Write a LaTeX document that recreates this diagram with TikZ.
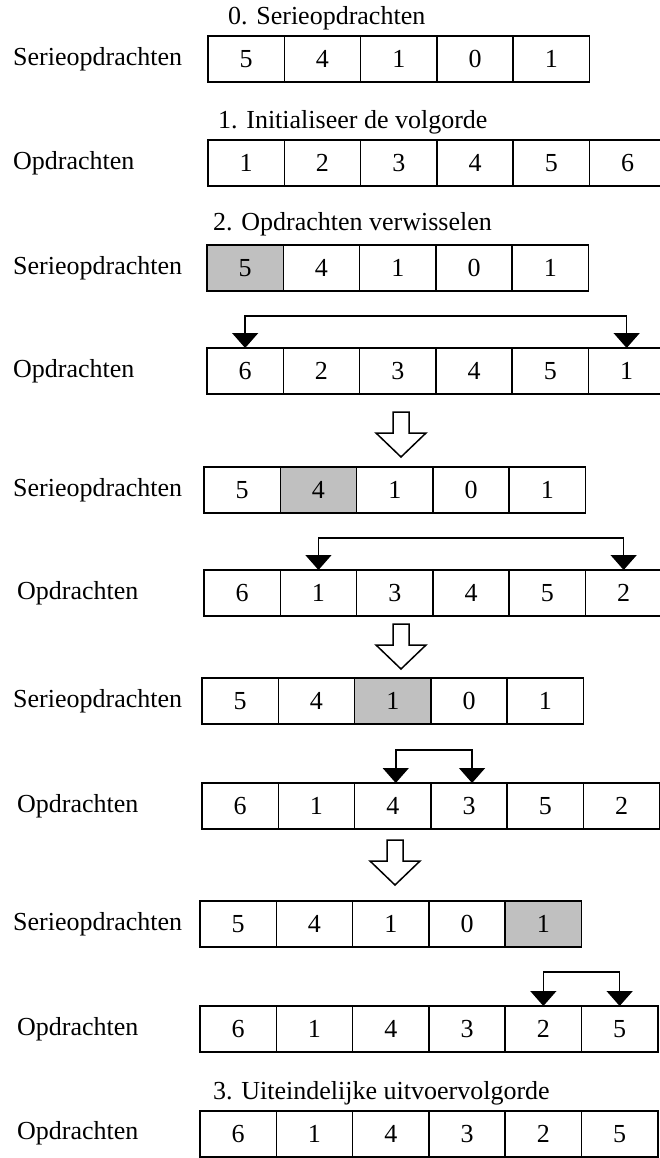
\documentclass[tikz,border=0pt]{standalone}
\usepackage{fontspec}
\setmainfont{Liberation Serif}
\usetikzlibrary{arrows.meta}

\definecolor{cellgray}{RGB}{192,192,192}

% one row of numbered cells: name, left edge, centre y, values, index of the shaded cell
\newcommand{\cellrow}[5]{%
  \foreach \v [count=\i] in {#4} {
    \ifnum\i=#5 \def\cellfill{cellgray}\else\def\cellfill{white}\fi
    \node[cellbox, fill=\cellfill] (#1c\i) at ({#2+76.3*(\i-0.5)}, #3) {\v};
  }%
}

% open block arrow pointing down: centre x, top y
\newcommand{\blockdown}[2]{%
  \draw[blockarrow] (#1-8,#2) -- (#1+8,#2) -- (#1+8,#2+21) -- (#1+25,#2+21)
    -- (#1,#2+45) -- (#1-25,#2+21) -- (#1-8,#2+21) -- cycle;
}

\tikzset{
  txt/.style={font=\fontsize{26}{30}\selectfont, text=black},
  cellbox/.style={draw=black, line width=1.5pt, minimum width=76.3pt,
    minimum height=46pt, inner sep=0pt, outer sep=0pt, txt},
  rowlabel/.style={anchor=west, inner sep=0pt, txt},
  steptitle/.style={anchor=west, inner sep=0pt, txt},
  swap/.style={draw=black, line width=1.5pt,
    {Triangle[width=26pt,length=15pt]}-{Triangle[width=26pt,length=15pt]}},
  blockarrow/.style={draw=black, fill=white, line width=1.5pt, line join=miter},
}

\begin{document}
\begin{tikzpicture}[x=1pt, y=-1pt]
  \useasboundingbox (0,0) rectangle (660,1158);
  \fill[white] (0,0) rectangle (660,1158);
  \clip (0,0) rectangle (660,1158);

  % step titles
  \node[steptitle] (t0) at (228,18)   {0. Serieopdrachten};
  \node[steptitle] (t1) at (218,122)  {1. Initialiseer de volgorde};
  \node[steptitle] (t2) at (213,224)  {2. Opdrachten verwisselen};
  \node[steptitle] (t3) at (213,1093) {3. Uiteindelijke uitvoervolgorde};

  % row labels
  \node[rowlabel] (l0)  at (13,59)   {Serieopdrachten};
  \node[rowlabel] (l1)  at (13,163)  {Opdrachten};
  \node[rowlabel] (l2)  at (13,268)  {Serieopdrachten};
  \node[rowlabel] (l3)  at (13,371)  {Opdrachten};
  \node[rowlabel] (l4)  at (13,490)  {Serieopdrachten};
  \node[rowlabel] (l5)  at (17,593)  {Opdrachten};
  \node[rowlabel] (l6)  at (13,701)  {Serieopdrachten};
  \node[rowlabel] (l7)  at (17,806)  {Opdrachten};
  \node[rowlabel] (l8)  at (13,924)  {Serieopdrachten};
  \node[rowlabel] (l9)  at (17,1029) {Opdrachten};
  \node[rowlabel] (l10) at (17,1133) {Opdrachten};

  % cell rows
  \cellrow{r0}{208}{59}{5,4,1,0,1}{0}
  \cellrow{r1}{208}{163}{1,2,3,4,5,6}{0}
  \cellrow{r2}{207}{268}{5,4,1,0,1}{1}
  \cellrow{r3}{207}{371}{6,2,3,4,5,1}{0}
  \cellrow{r4}{204}{490}{5,4,1,0,1}{2}
  \cellrow{r5}{204}{593}{6,1,3,4,5,2}{0}
  \cellrow{r6}{202}{701}{5,4,1,0,1}{3}
  \cellrow{r7}{202}{806}{6,1,4,3,5,2}{0}
  \cellrow{r8}{200}{924}{5,4,1,0,1}{5}
  \cellrow{r9}{200}{1029}{6,1,4,3,2,5}{0}
  \cellrow{r10}{200}{1134}{6,1,4,3,2,5}{0}

  % swaps
  \draw[swap] (r3c1.north) -- ++(0,-32) -| (r3c6.north);
  \draw[swap] (r5c2.north) -- ++(0,-32) -| (r5c6.north);
  \draw[swap] ([xshift=3pt]r7c3.north) -- ++(0,-33) -| ([xshift=3pt]r7c4.north);
  \draw[swap] (r9c5.north) -- ++(0,-34) -| (r9c6.north);

  % open arrows between the steps
  \blockdown{401}{412}
  \blockdown{401}{624}
  \blockdown{395}{840}
\end{tikzpicture}
\end{document}
